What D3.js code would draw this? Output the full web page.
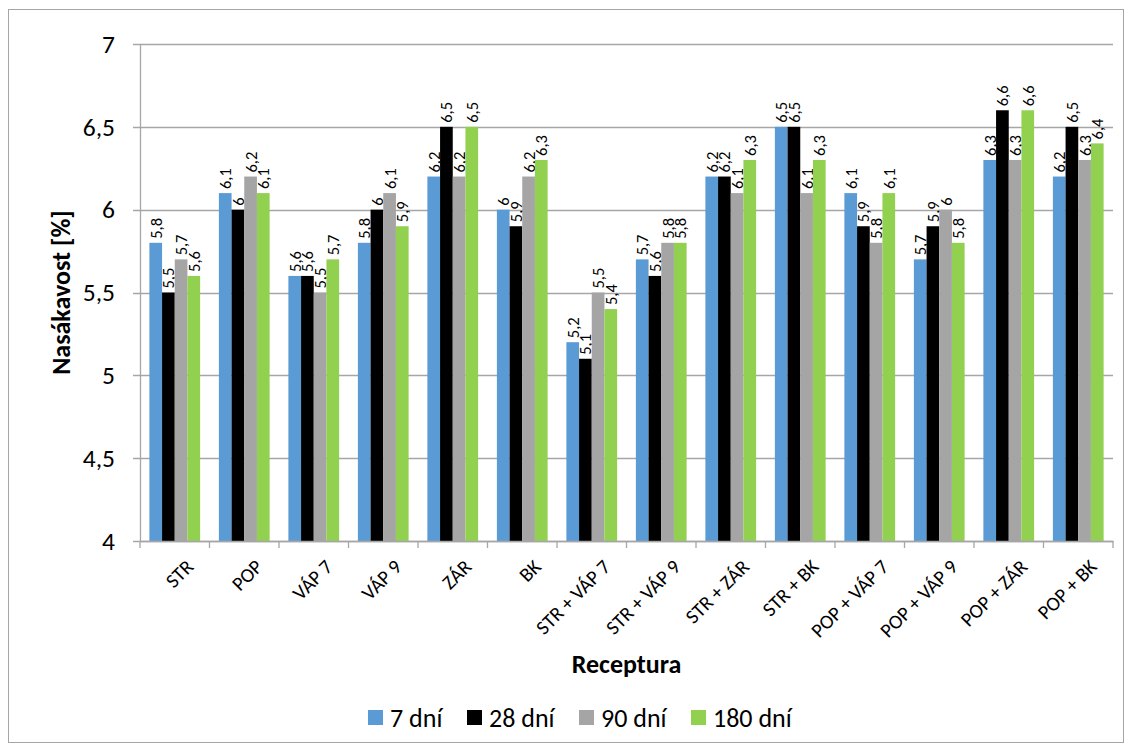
<!DOCTYPE html>
<html><head><meta charset="utf-8">
<script src="https://cdn.jsdelivr.net/npm/d3@7"></script>
<style>body{margin:0;background:#fff}#wrap{position:relative;width:1132px;height:751px}svg{display:block}text,.xl{font-family:Carlito,Calibri,Lato,sans-serif}
.xl{position:absolute;white-space:nowrap;line-height:1;font-size:20px;color:#000;transform-origin:100% 0;transform:rotate(-45deg)}</style>
</head><body><div id="wrap"></div>
<script>
const categories = ["STR","POP","VÁP 7","VÁP 9","ZÁR","BK","STR + VÁP 7","STR + VÁP 9","STR + ZÁR","STR + BK","POP + VÁP 7","POP + VÁP 9","POP + ZÁR","POP + BK"];
const seriesNames = ["7 dní","28 dní","90 dní","180 dní"];
const d7   = [5.8,6.1,5.6,5.8,6.2,6.0,5.2,5.7,6.2,6.5,6.1,5.7,6.3,6.2];
const d28  = [5.5,6.0,5.6,6.0,6.5,5.9,5.1,5.6,6.2,6.5,5.9,5.9,6.6,6.5];
const d90  = [5.7,6.2,5.5,6.1,6.2,6.2,5.5,5.8,6.1,6.1,5.8,6.0,6.3,6.3];
const d180 = [5.6,6.1,5.7,5.9,6.5,6.3,5.4,5.8,6.3,6.3,6.1,5.8,6.6,6.4];
const yTicks = [4,4.5,5,5.5,6,6.5,7];
const colors = ["#5b9bd5","#000000","#a5a5a5","#92d050"];
const series = [d7,d28,d90,d180];

const W=1132,H=751;
const wrap=d3.select("#wrap");
const svg=wrap.append("svg").attr("width",W).attr("height",H);
svg.append("rect").attr("x",8.5).attr("y",9.5).attr("width",1115).attr("height",733).attr("fill","#fff").attr("stroke","#a6a6a6");
const L=140,R=1113,T=44,B=541;
const x=d3.scaleBand().domain(categories).range([L,R]).paddingInner(0.27).paddingOuter(0.135);
const xs=d3.scaleBand().domain(d3.range(4)).range([0,x.bandwidth()]);
const y=d3.scaleLinear().domain([4,7]).range([B,T]);
const fmt=v=>String(v).replace(".",",");

svg.append("g").selectAll("line").data(yTicks).join("line")
 .attr("x1",L-7).attr("x2",R).attr("y1",d=>Math.round(y(d))+0.5).attr("y2",d=>Math.round(y(d))+0.5)
 .attr("stroke","#a6a6a6").attr("stroke-width",1.3);
const ya=svg.append("g").attr("transform",`translate(${L},0)`).call(d3.axisLeft(y).tickValues(yTicks).tickFormat(fmt).tickSize(0).tickPadding(25));
ya.select(".domain").attr("stroke","#a6a6a6").attr("stroke-width",1.3);
ya.selectAll(".tick text").style("font-size","25.5px").attr("fill","#000");

const groups=svg.append("g").selectAll("g").data(categories).join("g").attr("transform",c=>`translate(${x(c)},0)`);
series.forEach((s,si)=>{
  groups.append("rect").attr("x",xs(si)).attr("width",xs.bandwidth()).attr("y",(c,i)=>y(s[i])).attr("height",(c,i)=>y(4)-y(s[i])).attr("fill",colors[si]);
  groups.append("text").attr("transform",(c,i)=>`translate(${xs(si)+xs.bandwidth()/2+6},${y(s[i])-4}) rotate(-90)`)
   .style("font-size","16.5px").attr("fill","#000").text((c,i)=>fmt(s[i]));
});

const xa=svg.append("g").attr("transform",`translate(0,${B})`).call(d3.axisBottom(x).tickSize(0).tickFormat(""));
xa.select(".domain").attr("stroke","#a6a6a6").attr("stroke-width",1.3);
wrap.selectAll("div.xl").data(categories).join("div").attr("class","xl")
  .style("right",c=>(W-(x(c)+x.bandwidth()/2+8))+"px").style("top",(B+15)+"px").text(c=>c);
const bounds=categories.map(c=>x(c)-x.step()*x.paddingInner()/2);bounds.push(R);
svg.append("g").selectAll("line").data(bounds).join("line").attr("x1",d=>d).attr("x2",d=>d).attr("y1",B).attr("y2",B+7).attr("stroke","#a6a6a6").attr("stroke-width",1.3);

svg.append("text").attr("x",(L+R)/2).attr("y",673).attr("text-anchor","middle").style("font-size","26px").attr("font-weight","bold").text("Receptura");
svg.append("text").attr("transform",`translate(70,${(T+B)/2}) rotate(-90)`).attr("text-anchor","middle").style("font-size","26px").attr("font-weight","bold").text("Nasákavost [%]");

const lg=svg.append("g");
const lx=[368,467,579,691];
seriesNames.forEach((n,i)=>{
  lg.append("rect").attr("x",lx[i]).attr("y",710).attr("width",15).attr("height",15).attr("fill",colors[i]);
  lg.append("text").attr("x",lx[i]+22).attr("y",727).style("font-size","26px").text(n);
});
</script>
</body></html>
